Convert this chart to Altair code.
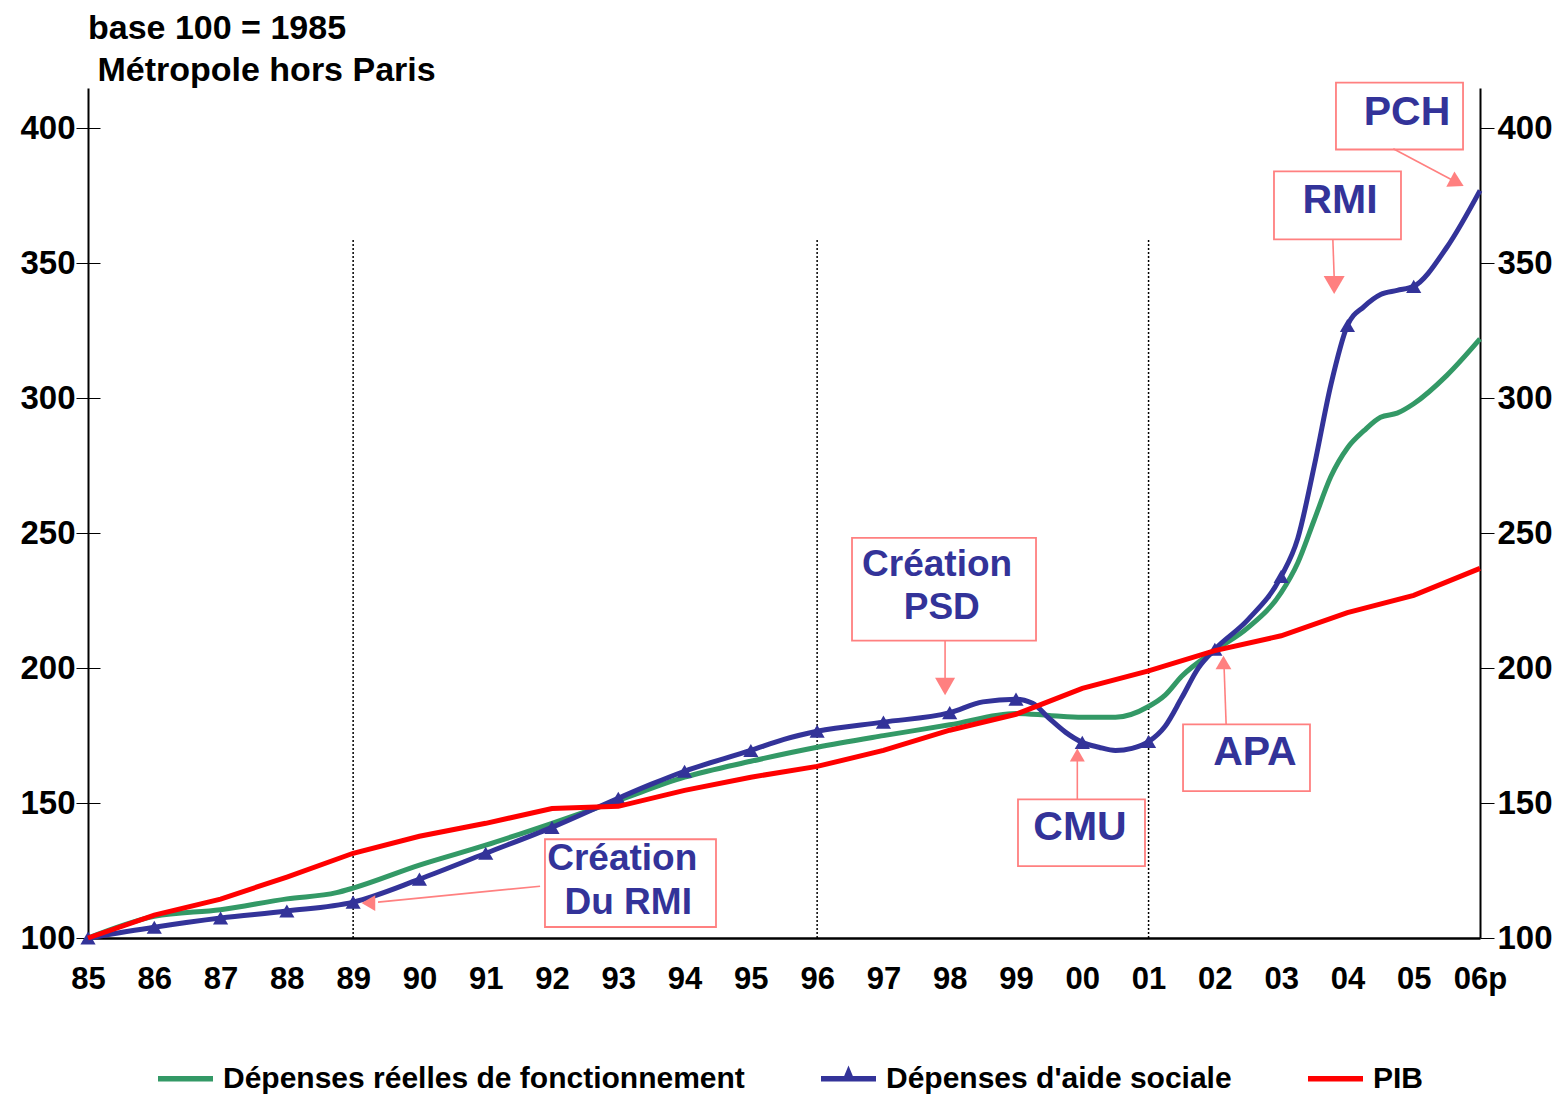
import altair as alt
import pandas as pd

FONT = "Liberation Sans"
BLUE = "#333399"
GREEN = "#339966"
RED = "#FF0000"
PINK = "#FF8080"

# ---------------- data ----------------
green_years = [1985, 1986, 1987, 1988, 1988.75, 1989, 1990, 1991, 1992, 1993, 1994, 1995, 1996,
               1997, 1998, 1999, 1999.5, 2000, 2000.5, 2001, 2001.25, 2001.5, 2002, 2002.5, 2003,
               2003.25, 2003.5, 2003.75, 2004, 2004.25, 2004.5, 2004.75, 2005, 2005.5, 2006]
green_values = [100, 108, 110.5, 114.5, 116.8, 118.5, 127, 134.4, 142.5, 151, 159.6, 165.5, 170.7,
                175, 179, 183.2, 182.5, 181.8, 181.8, 185.8, 190, 197, 206.5, 215, 228,
                239, 255, 271, 281.6, 288, 293, 294.5, 298, 308.5, 322]

blue_years = [1985, 1986, 1987, 1988, 1989, 1990, 1991, 1992, 1993, 1993.5, 1994, 1995, 1995.5,
              1996, 1997, 1998, 1998.5, 1999, 1999.25, 1999.5, 1999.75, 2000, 2000.25, 2000.5,
              2000.75, 2001, 2001.25, 2001.5, 2001.75, 2002, 2002.5, 2003, 2003.25, 2003.5,
              2003.75, 2004, 2004.25, 2004.5, 2004.75, 2005, 2005.5, 2006]
blue_values = [100, 104, 107.4, 110, 113.3, 121.8, 131.4, 141, 151.8, 157, 161.8, 169.5, 173.6,
               176.6, 180, 183.5, 187.5, 188.5, 187, 181.4, 176.2, 172.5, 170.7, 169.5,
               170.3, 172.8, 178.5, 189, 200, 207, 218, 234, 248, 275,
               305, 327, 334, 338.5, 340, 341.5, 356, 377]

red_years = [1985, 1986, 1987, 1988, 1989, 1990, 1991, 1992, 1993, 1994, 1995, 1996, 1997,
             1998, 1999, 2000, 2001, 2002, 2003, 2004, 2005, 2006]
red_values = [100, 108.5, 114.4, 122.6, 131.4, 137.7, 142.5, 148, 148.8, 154.7, 159.6, 163.6,
              169.5, 177, 182.9, 192.5, 199, 206.5, 212, 220.6, 227, 237]

series_names = ["Dépenses réelles de fonctionnement", "Dépenses d'aide sociale", "PIB"]
series_colors = [GREEN, BLUE, RED]

title_lines = ["base 100 = 1985", "\u200b Métropole hors Paris"]

y_ticks = [100, 150, 200, 250, 300, 350, 400]
x_ticks = list(range(1985, 2007))

# dotted reference lines
ref_years = [1989, 1996, 2001]
ref_low = [100, 100, 100]
ref_high = [359, 359, 359]

# annotation labels
note_text = ["Création", "Du RMI", "Création", "PSD", "CMU", "APA", "RMI", "PCH"]
note_year = [1993.06, 1993.15, 1997.81, 1997.88, 1999.965, 2002.605, 2003.888, 2004.898]
note_value = [129.2, 112.9, 238.35, 222.4, 140.7, 168.4, 373.0, 405.9]
note_fs = [37, 37, 37, 37, 41, 41, 41, 41]

# annotation boxes
box_x1 = [1991.894, 1996.526, 1999.03, 2001.52, 2002.892, 2003.827]
box_x2 = [1994.474, 1999.302, 2000.946, 2003.435, 2004.808, 2005.744]
box_y1 = [104.07, 210.2, 126.6, 154.4, 358.9, 392.2]
box_y2 = [136.6, 248.3, 151.4, 179.2, 384.1, 417.0]

# arrow shafts
shaft_x1 = [1991.82, 1997.93, 1999.925, 2002.17, 2003.78, 2004.692]
shaft_y1 = [119.2, 210.2, 151.4, 179.2, 358.9, 392.5]
shaft_x2 = [1989.375, 1997.93, 1999.925, 2002.14, 2003.80, 2005.573]
shaft_y2 = [113.3, 195.4, 165.8, 199.9, 344.9, 381.0]

# arrow heads
head_year = [1989.23, 1997.93, 1999.925, 2002.13, 2003.80, 2005.653]
head_value = [112.95, 193.2, 167.8, 202.1, 342.0, 379.95]
head_shape = ["triangle-left", "triangle-down", "triangle-up", "triangle-up", "triangle-down", "triangle-right"]
head_size = [250, 400, 225, 250, 441, 300]
head_angle = [0, 0, 0, 0, 0, 28]

# ---------------- frames ----------------
df_green = pd.DataFrame({"year": green_years, "value": green_values})
df_blue = pd.DataFrame({"year": blue_years, "value": blue_values})
df_red = pd.DataFrame({"year": red_years, "value": red_values})
df_ref = pd.DataFrame({"year": ref_years, "lo": ref_low, "hi": ref_high})
df_notes = pd.DataFrame({"year": note_year, "value": note_value, "label": note_text, "fs": note_fs})
df_boxes = pd.DataFrame({"year": box_x1, "x2": box_x2, "value": box_y1, "y2": box_y2})
df_shafts = pd.DataFrame({"year": shaft_x1, "x2": shaft_x2, "value": shaft_y1, "y2": shaft_y2})
df_heads = pd.DataFrame({"year": head_year, "value": head_value, "shape": head_shape,
                         "sz": head_size, "ang": head_angle})
df_legend = pd.DataFrame({"series": series_names, "year": [1985] * 3, "value": [100] * 3})

# ---------------- scales / axes ----------------
xscale = alt.Scale(domain=[1985, 2006], nice=False, zero=False)
yscale = alt.Scale(domain=[100, 415], nice=False, zero=False)

x_axis = alt.Axis(values=x_ticks, title=None, grid=False, ticks=False, domain=True,
                  domainColor="black", domainWidth=2.5,
                  labelExpr="datum.value == 2006 ? '06p' : substring(toString(datum.value), 2, 4)",
                  labelFont=FONT, labelFontSize=31, labelFontWeight="bold", labelColor="black",
                  labelPadding=26, labelFlush=False, labelOverlap=False)
X = alt.X("year:Q", scale=xscale, axis=x_axis)

left_labels = alt.Axis(orient="left", offset=-12, values=y_ticks, title=None, grid=False,
                       domain=False, ticks=True, tickSize=24, tickColor="black", tickWidth=1,
                       labelPadding=1, labelFont=FONT, labelFontSize=33, labelFontWeight="bold",
                       labelColor="black")
left_domain = alt.Axis(orient="left", title=None, grid=False, domain=True, domainColor="black",
                       domainWidth=2, ticks=False, labels=False)
right_axis = alt.Axis(orient="right", values=y_ticks, title=None, grid=False, domain=True,
                      domainColor="black", domainWidth=2, ticks=True, tickSize=14,
                      tickColor="black", tickWidth=1, labelPadding=3, labelFont=FONT,
                      labelFontSize=33, labelFontWeight="bold", labelColor="black")


def Y(field, axis=None):
    if axis is None:
        return alt.Y(field, scale=yscale, axis=None)
    return alt.Y(field, scale=yscale, axis=axis)


# ---------------- layers ----------------
rules = alt.Chart(df_ref).mark_rule(color="black", strokeDash=[2, 2], strokeWidth=1.5).encode(
    x=X, y=Y("lo:Q"), y2="hi:Q")

green = alt.Chart(df_green).mark_line(color=GREEN, strokeWidth=5, interpolate="monotone").encode(
    x=X, y=Y("value:Q", left_labels))

blue = alt.Chart(df_blue).mark_line(color=BLUE, strokeWidth=5, interpolate="monotone").encode(
    x=X, y=Y("value:Q", left_domain))

blue_pts = alt.Chart(df_blue).transform_filter(
    "datum.year == floor(datum.year) && datum.year < 2006"
).mark_point(shape="triangle-up", filled=True, size=230, color=BLUE, opacity=1).encode(
    x=X, y=Y("value:Q", right_axis))

red = alt.Chart(df_red).mark_line(color=RED, strokeWidth=5).encode(x=X, y=Y("value:Q"))

boxes = alt.Chart(df_boxes).mark_rect(fill="white", stroke=PINK, strokeWidth=1.8).encode(
    x=X, x2="x2:Q", y=Y("value:Q"), y2="y2:Q")

notes = alt.Chart(df_notes).mark_text(font=FONT, fontWeight="bold", color=BLUE, align="center",
                                      baseline="middle").encode(
    x=X, y=Y("value:Q"), text="label:N", size=alt.Size("fs:Q", scale=None))

shafts = alt.Chart(df_shafts).mark_rule(color=PINK, strokeWidth=1.6).encode(
    x=X, x2="x2:Q", y=Y("value:Q"), y2="y2:Q")

head_layers = []
for shp in sorted(set(head_shape)):
    head_layers.append(
        alt.Chart(df_heads).transform_filter(alt.datum.shape == shp).mark_point(
            shape=shp, filled=True, color=PINK, opacity=1).encode(
            x=X, y=Y("value:Q"),
            size=alt.Size("sz:Q", scale=None),
            angle=alt.Angle("ang:Q", scale=None)))

bar = "M-1,-0.1L1,-0.1L1,0.1L-1,0.1Z"
bar_tri = "M-1,-0.1L1,-0.1L1,0.1L-1,0.1Z M0,-0.48L0.24,0.1L-0.24,0.1Z"
leg = alt.Legend(title=None, orient="none", legendX=70, legendY=963, direction="horizontal",
                 columns=3, symbolSize=3025, symbolStrokeWidth=0, symbolOpacity=1,
                 labelFont=FONT, labelFontSize=30, labelFontWeight="bold", labelColor="black",
                 labelOffset=10, columnPadding=76, padding=0, labelLimit=900)
legend_layer = alt.Chart(df_legend).transform_filter("datum.value > 9999").mark_point(
    filled=True, opacity=1).encode(
    x=X, y=Y("value:Q"),
    color=alt.Color("series:N", scale=alt.Scale(domain=series_names, range=series_colors), legend=leg),
    shape=alt.Shape("series:N", scale=alt.Scale(domain=series_names, range=[bar, bar_tri, bar]),
                    legend=leg))

chart = alt.layer(
    rules, green, blue, blue_pts, red, boxes, notes, shafts, *head_layers, legend_layer
).resolve_scale(
    y="shared", size="independent"
).resolve_axis(
    y="independent"
).properties(
    width=1392, height=850,
    autosize=alt.AutoSizeParams(type="none"),
    padding={"left": 80, "top": 80, "right": 75, "bottom": 158},
    title=alt.Title(text=title_lines, anchor="start", frame="group", font=FONT, fontSize=34,
                    fontWeight="bold", color="black", lineHeight=42, offset=-6),
    background="white",
).configure_view(strokeWidth=0)

chart.save("out.html", embed_options={"renderer": "svg", "actions": False})
